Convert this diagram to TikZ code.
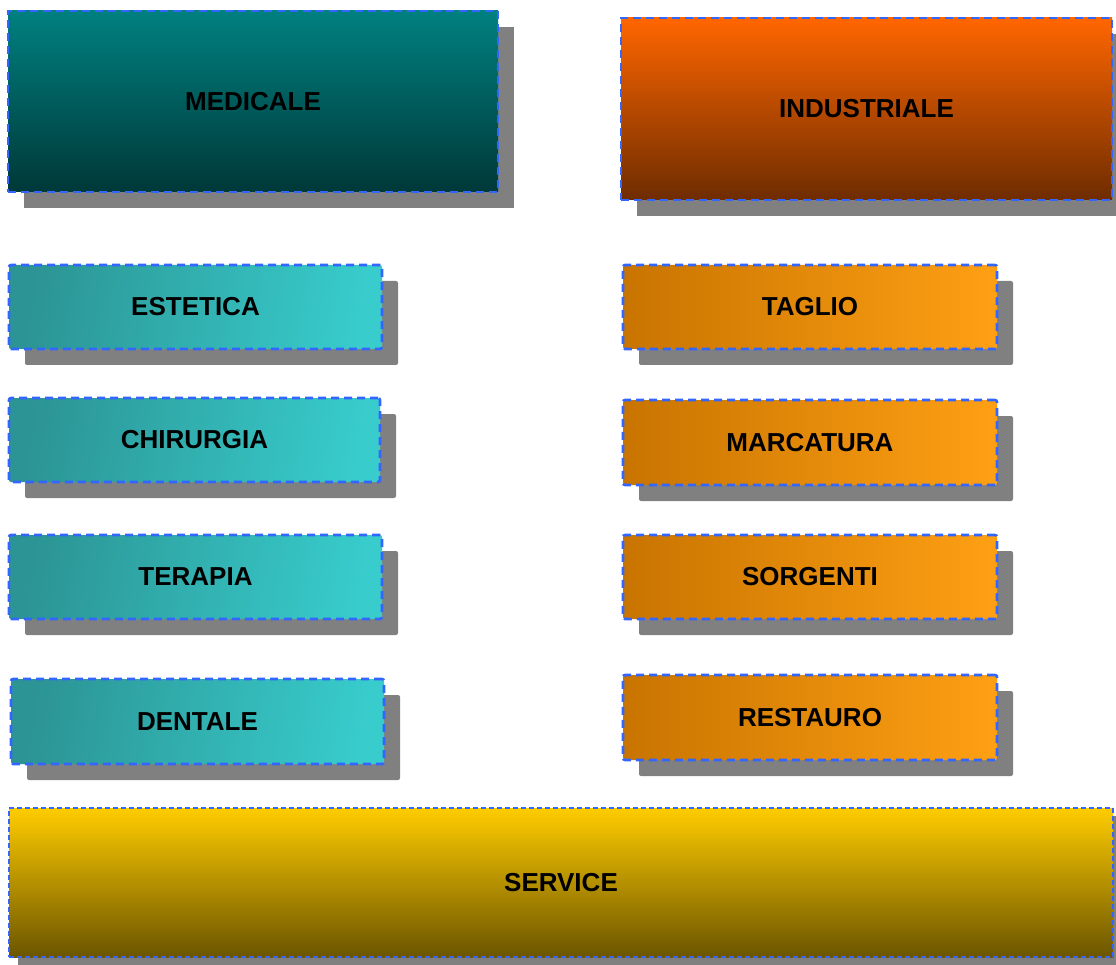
\documentclass[tikz,border=0pt]{standalone}
\usepackage{fontspec}
\setmainfont{Liberation Sans}
\usepackage{tikz}
\usetikzlibrary{shadows, positioning}
\definecolor{dashblue}{HTML}{3366FF}
\definecolor{tealtop}{HTML}{008080}
\definecolor{tealbot}{HTML}{003838}
\definecolor{orangetop}{HTML}{FF6600}
\definecolor{orangebot}{HTML}{6E2C00}
\definecolor{cyanleft}{HTML}{2C9494}
\definecolor{cyanright}{HTML}{38CCCC}
\definecolor{ambleft}{HTML}{C87400}
\definecolor{ambright}{HTML}{FFA014}
\definecolor{goldtop}{HTML}{FFCC00}
\definecolor{goldbot}{HTML}{6B5500}
\tikzstyle{sector} = [rectangle, inner sep=0pt, outer sep=0pt, draw=dashblue, line width=2.6pt, dash pattern=on 8pt off 5pt, font=\bfseries\fontsize{26}{30}\selectfont, text=black, drop shadow={shadow xshift=16pt, shadow yshift=-16pt, fill=black!50, opacity=1}]
\tikzstyle{main} = [sector, minimum width=490pt, minimum height=181pt]
\tikzstyle{medbox} = [sector, rounded corners=2pt, minimum width=373pt, minimum height=84pt, left color=cyanleft, right color=cyanright, shading angle=80]
\tikzstyle{indbox} = [sector, rounded corners=2pt, minimum width=374pt, minimum height=84pt, left color=ambleft, right color=ambright]

\begin{document}
\begin{tikzpicture}[x=1pt, y=-1pt]
		\useasboundingbox (0,0) rectangle (1116,965);
		% upper sectors
		\node (Medicale) [main, top color=tealtop, bottom color=tealbot] at (253,101.5) {MEDICALE};
		\node (Industriale) [main, minimum width=491pt, minimum height=182pt, top color=orangetop, bottom color=orangebot] at (866.5,109) {INDUSTRIALE};
		% medical column
		\node (Estetica) [medbox] at (195.5,307) {ESTETICA};
		\node (Chirurgia) [medbox, minimum width=371pt] at (194.5,440) {CHIRURGIA};
		\node (Terapia) [medbox] at (195.5,577) {TERAPIA};
		\node (Dentale) [medbox, minimum height=85pt] at (197.5,721.5) {DENTALE};
		% industrial column
		\node (Taglio) [indbox] at (810,307) {TAGLIO};
		\node (Marcatura) [indbox, minimum height=85pt, below = 51pt of Taglio] {MARCATURA};
		\node (Sorgenti) [indbox, below = 50pt of Marcatura] {SORGENTI};
		\node (Restauro) [indbox, minimum height=85pt, below = 56pt of Sorgenti] {RESTAURO};
		% bottom bar
		\node (Service) [sector, minimum width=1104pt, minimum height=149pt, dash pattern=on 5pt off 3pt, top color=goldtop, bottom color=goldbot, drop shadow={shadow xshift=9pt, shadow yshift=-8pt, fill=black!50, opacity=1}] at (561,882.5) {SERVICE};
\end{tikzpicture}
\end{document}
